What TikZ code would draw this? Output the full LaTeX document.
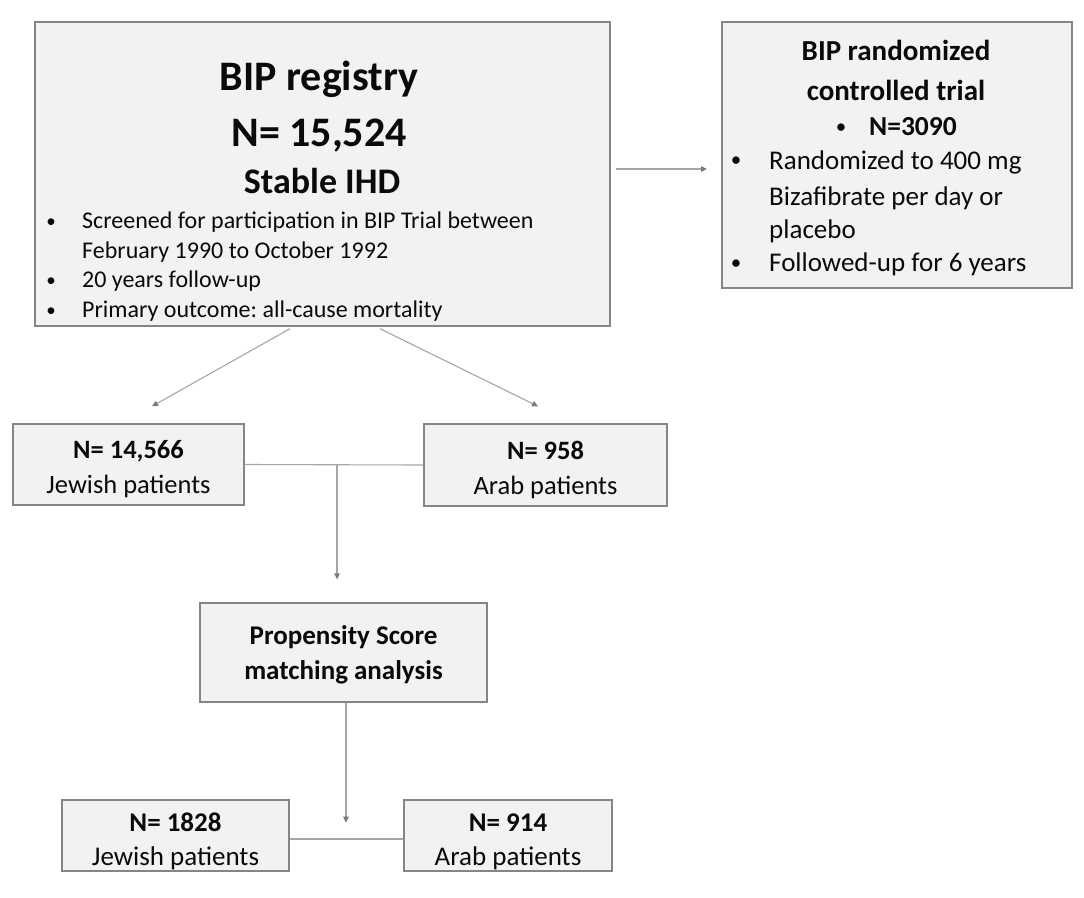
\documentclass[tikz,border=0pt]{standalone}
\usepackage{fontspec}
\setmainfont{Carlito}
\frenchspacing
\usetikzlibrary{arrows.meta,calc}
\definecolor{boxfill}{HTML}{F2F2F2}
\definecolor{boxline}{HTML}{858585}
\definecolor{connline}{HTML}{A6A6A6}
\definecolor{tipcol}{HTML}{7A7A7A}
\definecolor{txt}{HTML}{0A0A0A}
\tikzset{
  box/.style={draw=boxline, fill=boxfill, line width=1.4pt, inner sep=0pt, text=txt},
  boxlbl/.style={align=center, text=txt, inner sep=0pt},
  conn/.style={draw=connline, line width=1.1pt},
  arr/.style={conn, -{Triangle[length=6pt,width=5.5pt,fill=tipcol,color=tipcol]}},
  ttl/.style={anchor=base, text=txt, inner sep=0pt},
  item/.style={anchor=base west, text=txt, inner sep=0pt},
  bul/.style={anchor=base, text=txt, inner sep=0pt},
}
\begin{document}
\begin{tikzpicture}[x=1pt,y=-1pt]
\useasboundingbox[fill=white] (0,0) rectangle (1084,897);

% ---------- boxes ----------
\node[box, minimum width=575pt, minimum height=304pt] (big) at (322.5,174) {};
\node[box, minimum width=350pt, minimum height=266pt] (rct) at (897,155) {};

\node[box, minimum width=231pt, minimum height=81pt,
      label={[boxlbl, name=jewt, yshift=-5pt, font=\fontsize{26.5}{35}\selectfont]center:{\textbf{N= 14,566}\\Jewish patients}}]
      (jew) at (128.5,464.5) {};
\node[box, minimum width=243pt, minimum height=82pt,
      label={[boxlbl, name=arabt, yshift=-4.5pt, font=\fontsize{26.5}{35}\selectfont]center:{\textbf{N= 958}\\Arab patients}}]
      (arab) at (545.5,465) {};
\node[box, minimum width=287pt, minimum height=99pt,
      label={[boxlbl, name=pst, yshift=-2pt, font=\fontsize{27}{35}\selectfont\bfseries]center:{Propensity Score\\matching analysis}}]
      (ps) at (343.5,652.5) {};
\node[box, minimum width=227pt, minimum height=71pt,
      label={[boxlbl, name=bjt, yshift=-6pt, font=\fontsize{27}{34}\selectfont]center:{\textbf{N= 1828}\\Jewish patients}}]
      (bj) at (175.5,835.5) {};
\node[box, minimum width=208pt, minimum height=71pt,
      label={[boxlbl, name=bat, yshift=-6pt, font=\fontsize{27}{34}\selectfont]center:{\textbf{N= 914}\\Arab patients}}]
      (ba) at (508,835.5) {};

% ---------- text of the registry box ----------
\node[ttl, font=\fontsize{42}{42}\selectfont\bfseries] (bigt1) at (319,90) {BIP registry};
\node[ttl, font=\fontsize{42}{42}\selectfont\bfseries] (bigt2) at (319,146) {N= 15,524};
\node[ttl, font=\fontsize{36}{36}\selectfont\bfseries] (bigt3) at (322,193) {Stable IHD};
\begin{scope}[font=\fontsize{24}{24}\selectfont]
\node[bul, font=\fontsize{19}{19}\selectfont] (bb1) at (51,227) {•};
\node[item] (bi1) at (82,228) {Screened for participation in BIP Trial between};
\node[item] (bi1b) at (82,258) {February 1990 to October 1992};
\node[bul, font=\fontsize{19}{19}\selectfont] (bb2) at (51,286) {•};
\node[item] (bi2) at (82,287) {20 years follow-up};
\node[bul, font=\fontsize{19}{19}\selectfont] (bb3) at (51,316) {•};
\node[item] (bi3) at (82,317) {Primary outcome: all-cause mortality};
\end{scope}

% ---------- text of the RCT box ----------
\node[ttl, font=\fontsize{29}{29}\selectfont\bfseries] (rt1) at (896,60) {BIP randomized};
\node[ttl, font=\fontsize{29}{29}\selectfont\bfseries] (rt2) at (896,100) {controlled trial};
\node[bul, font=\fontsize{21}{21}\selectfont] (rb0) at (841,133) {•};
\node[item, font=\fontsize{27.5}{27.5}\selectfont\bfseries] (rt3) at (869,135) {N=3090};
\begin{scope}[font=\fontsize{27}{27}\selectfont]
\node[bul, font=\fontsize{21}{21}\selectfont] (rb1) at (736,166) {•};
\node[item] (ri1) at (769,169) {Randomized to 400 mg};
\node[item] (ri1b) at (769,205) {Bizafibrate per day or};
\node[item] (ri1c) at (769,238) {placebo};
\node[bul, font=\fontsize{21}{21}\selectfont] (rb2) at (736,269) {•};
\node[item] (ri2) at (769,271) {Followed-up for 6 years};
\end{scope}

% ---------- connectors ----------
\coordinate (e1) at (707,169);
\draw[arr, shorten <=5pt] (big.east |- e1) -- (e1);

\draw[arr] ([xshift=-32.5pt,yshift=-2pt]big.south) -- ([xshift=23.5pt,yshift=17pt]jew.north);
\draw[arr] ([xshift=57.5pt,yshift=-2pt]big.south) -- ([xshift=-7.5pt,yshift=17pt]arab.north);

\draw[conn] (jew.east) -- (arab.west);
\coordinate (j1) at ($(jew.east)!0.517!(arab.west)$);
\coordinate (e2) at ([xshift=-6.5pt,yshift=23pt]ps.north);
\draw[arr] (j1) -- (j1 |- e2);

\draw[arr] ([xshift=2.5pt]ps.south) -- ++(0,120);
\draw[conn] ([yshift=-3.5pt]bj.east) -- ([yshift=-3.5pt]ba.west);
\end{tikzpicture}
\end{document}
